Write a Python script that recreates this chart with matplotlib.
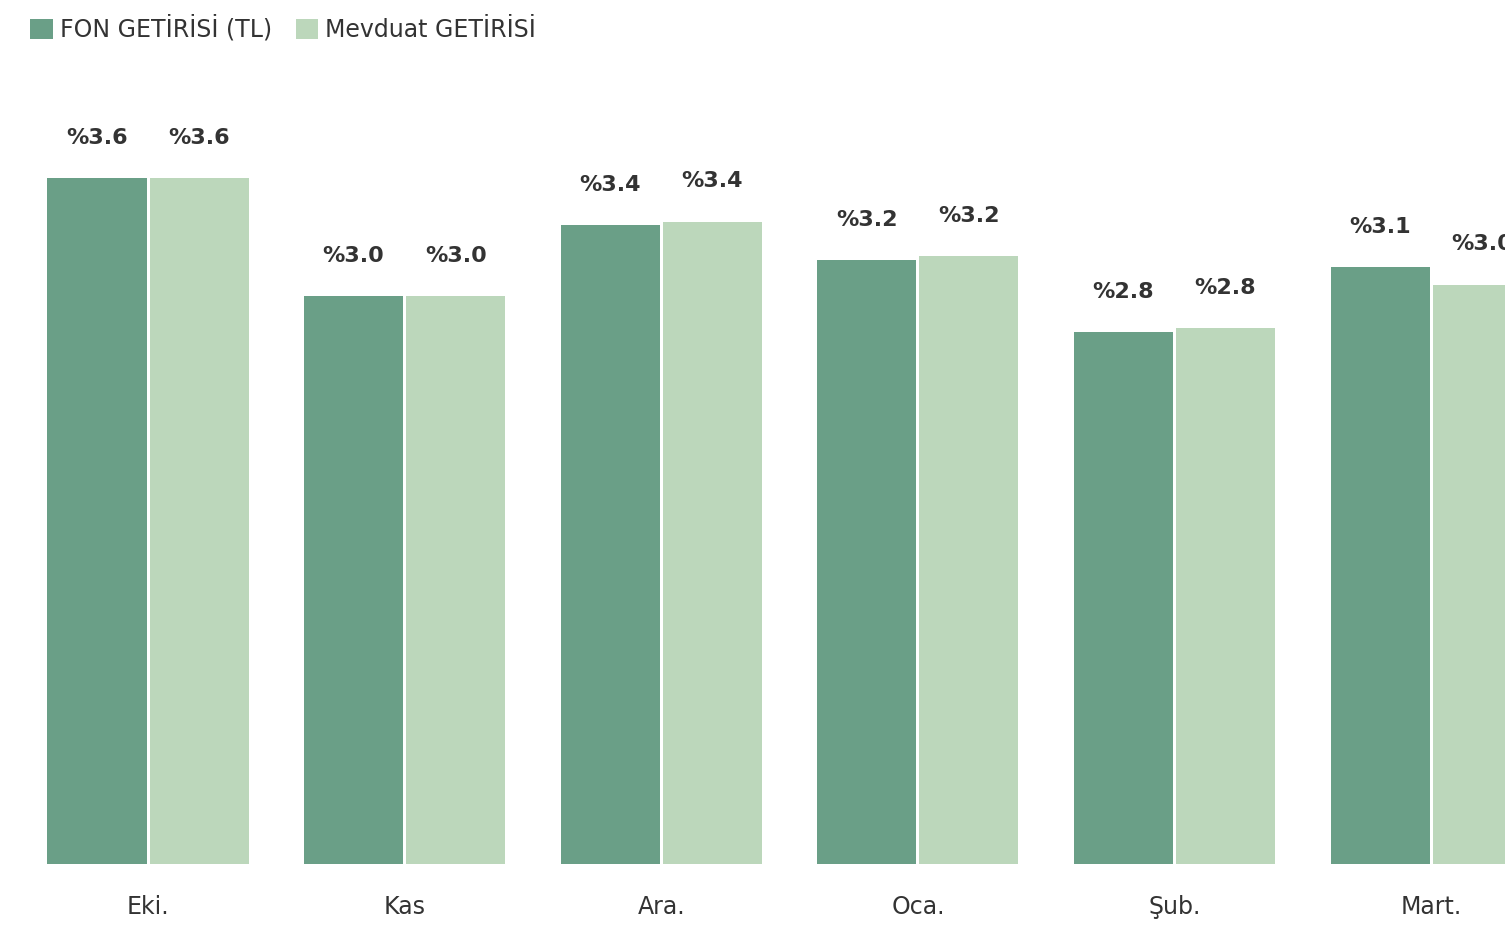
import matplotlib.pyplot as plt
import numpy as np

# data
months = ['Eki.', 'Kas', 'Ara.', 'Oca.', 'Şub.', 'Mart.']
fon = [3.60, 2.98, 3.35, 3.17, 2.79, 3.13]
mevduat = [3.60, 2.98, 3.37, 3.19, 2.81, 3.04]
series_names = ['FON GETİRİSİ (TL)', 'Mevduat GETİRİSİ']

c_fon = '#6a9f87'
c_mev = '#bcd7bb'
txt = '#333333'

plt.rcParams['font.family'] = ['DejaVu Sans']

fig = plt.figure(figsize=(15.05, 9.26), dpi=100)
# axes spans full width, last group is cut off on the right like the original
ax = fig.add_axes([0, 62 / 926, 1, 804 / 926])

x = np.arange(len(months))
w = 0.386
off = 0.199
b1 = ax.bar(x - off, fon, w, color=c_fon, label=series_names[0])
b2 = ax.bar(x + off, mevduat, w, color=c_mev, label=series_names[1])

for bars, vals in [(b1, fon), (b2, mevduat)]:
    for r, v in zip(bars, vals):
        ax.annotate(f'%{v:.1f}', xy=(r.get_x() + r.get_width() / 2, v),
                    xytext=(0, 29), textcoords='offset points',
                    ha='center', va='center', fontsize=16, fontweight='bold', color=txt)

ax.set_xlim(-0.577, 5.288)
ax.set_ylim(0, 804 / 190.6)
ax.set_xticks(x)
ax.set_xticklabels(months, fontsize=17, color=txt)
ax.tick_params(axis='x', length=0, pad=22)
ax.set_yticks([])
for s in ax.spines.values():
    s.set_visible(False)

fig.legend(handles=[b1, b2], loc='upper left', bbox_to_anchor=(0.010, 1.0),
           ncol=2, frameon=False, fontsize=17, labelcolor=txt, borderaxespad=0.25,
           handlelength=0.95, handleheight=0.95, handletextpad=0.3, columnspacing=1.0)

fig.savefig('out.png', dpi=100)
